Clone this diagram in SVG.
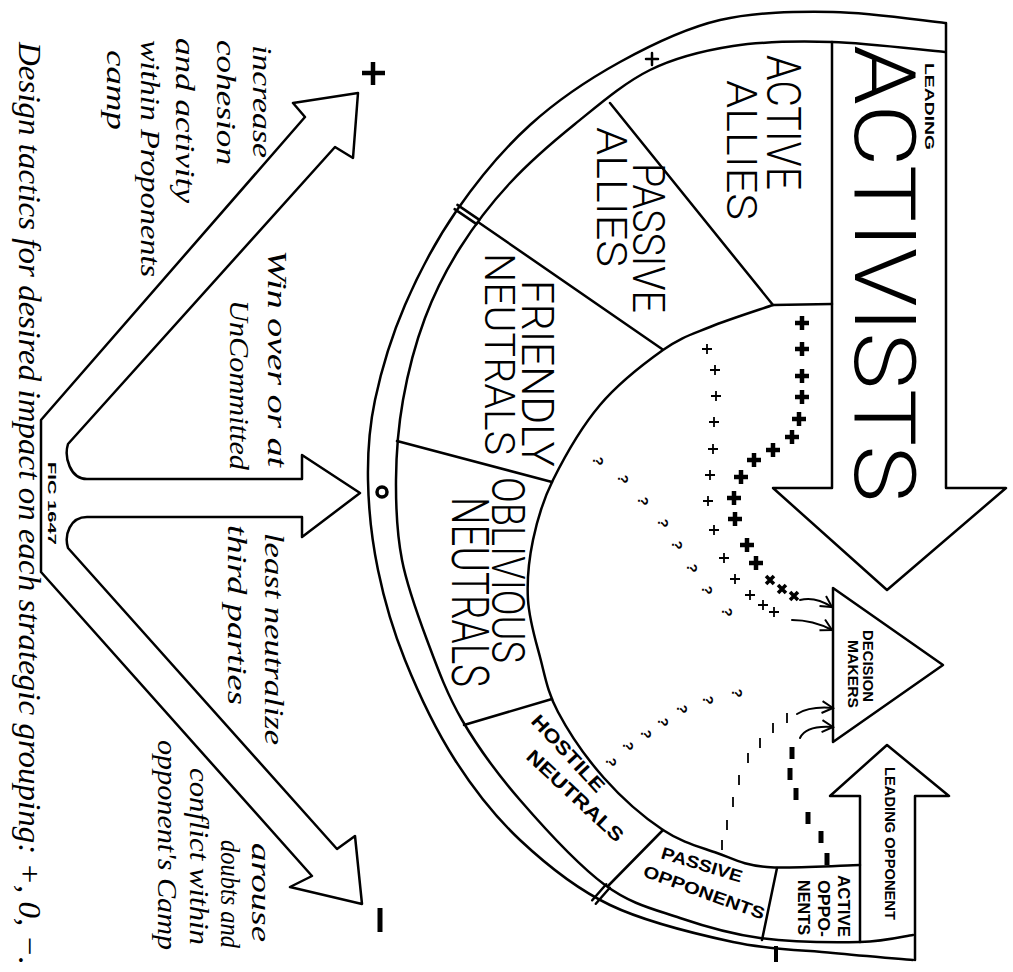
<svg xmlns="http://www.w3.org/2000/svg" width="1013" height="972" viewBox="0 0 1013 972">
<defs>
<style>
.ln{fill:none;stroke:#000;stroke-width:2.5;stroke-linejoin:round;stroke-linecap:round}
.th{fill:none;stroke:#000;stroke-width:2;stroke-linecap:round}
.blk{font-family:"Roboto","Liberation Sans",Arial,sans-serif;font-weight:300;fill:#000}
.bold{font-family:"Liberation Sans",Arial,sans-serif;font-weight:bold;fill:#000}
.hand{font-family:"Liberation Serif","Times New Roman",serif;font-style:italic;fill:#000}
.bp{stroke:#000;stroke-width:4.5;fill:none}
.sp{stroke:#000;stroke-width:1.8;fill:none}
.q{font-family:"Liberation Sans",Arial,sans-serif;font-weight:bold;font-size:15px;fill:#000;text-anchor:middle}
.td{stroke:#000;stroke-width:1.8;fill:none}
.kd{stroke:#000;stroke-width:5;fill:none}
</style>
<marker id="ah" markerUnits="userSpaceOnUse" markerWidth="16" markerHeight="16" refX="13" refY="8" orient="auto"><path d="M2,2 L13,8 L2,14" fill="none" stroke="#000" stroke-width="2"/></marker>
<path id="bplus" d="M-7,0 H7 M0,-7 V7"/>
<path id="splus" d="M-5,0 H5 M0,-5 V5"/>
<path id="tdash" d="M0,-5 V5"/>
<path id="kdash" d="M0,-6 V6"/>
</defs>
<rect width="1013" height="972" fill="#fff"/>

<g id="band">
<path class="ln" d="M945,23 C926.3,21.2 870.5,12.5 833,12 C795.5,11.5 755.5,11.7 720,20 C684.5,28.3 651.7,44.5 620,62 C588.3,79.5 557.2,100.3 530,125 C502.8,149.7 477.8,180 457,210 C436.2,240 418.7,273.3 405,305 C391.3,336.7 381.2,370.8 375,400 C368.8,429.2 367.5,451.7 368,480 C368.5,508.3 371.8,540 378,570 C384.2,600 392.2,628.3 405,660 C417.8,691.7 435.8,730 455,760 C474.2,790 494.2,815.8 520,840 C545.8,864.2 574.5,888 610,905 C645.5,922 695.8,934 733,942 C770.2,950 803,950 833,953 C863,956 899.7,958.8 913,960"/>
<path class="ln" d="M945,52 C924.5,50.3 867,43 832,42 C797,41 763.3,41.3 733,46 C702.7,50.7 676.3,57 650,70 C623.7,83 598.3,105.2 575,124 C551.7,142.8 529.2,162.3 510,183 C490.8,203.7 474.2,225.5 460,248 C445.8,270.5 434.5,292.7 425,318 C415.5,343.3 407.8,373 403,400 C398.2,427 396.2,453.3 396,480 C395.8,506.7 396.8,533.3 402,560 C407.2,586.7 417,613.3 427,640 C437,666.7 446.5,693.3 462,720 C477.5,746.7 496.2,772.5 520,800 C543.8,827.5 578.3,865.3 605,885 C631.7,904.7 654.2,909.2 680,918 C705.8,926.8 730,934 760,938 C790,942 834.5,942.5 860,942 C885.5,941.5 904.2,936.2 913,935"/>
<path class="ln" d="M454.6,209.1 L476.6,224.1 M457.4,204.9 L479.4,219.9"/>
<path class="ln" d="M609.8,887.8 L595.8,903.8 M606.2,884.2 L592.2,900.2"/>
<path class="ln" d="M646,59 H658 M652,53 V65" stroke-width="2.2"/>
<circle cx="382" cy="492" r="5" fill="none" stroke="#000" stroke-width="3.5"/>
<path d="M776,946 V962" stroke="#000" stroke-width="4"/>
</g>

<g id="inner-arc">
<path class="ln" d="M832,304 L773,305 C762.5,308.7 728.3,319.5 710,327 C691.7,334.5 681.3,337 663,350 C644.7,363 618.3,383.3 600,405 C581.7,426.7 564.2,457.5 553,480 C541.8,502.5 537.2,520 533,540 C528.8,560 526.8,580.5 528,600 C529.2,619.5 535,638.3 540,657 C545,675.7 547.3,691.8 558,712 C568.7,732.2 586.5,758.3 604,778 C621.5,797.7 644.2,817.5 663,830 C681.8,842.5 699.7,846.8 717,853 C734.3,859.2 743.2,865 767,867 C790.8,869 844.5,865.3 860,865"/>
</g>

<g id="leading-activists">
<path class="ln" d="M832,42 L832,488 L773,488 L887,590 L1006,488 L946,488 L946,23"/>
<text class="bold" font-size="12" textLength="87" lengthAdjust="spacingAndGlyphs" transform="translate(925,63) rotate(90)">LEADING</text>
<text class="blk" font-size="86" textLength="457" lengthAdjust="spacingAndGlyphs" transform="translate(855,45) rotate(90)">ACTIVISTS</text>
</g>

<g id="active-allies">
<path class="ln" d="M610,103 L773,305"/>
<text class="blk" font-size="49" textLength="135" lengthAdjust="spacingAndGlyphs" transform="translate(767,55) rotate(90)">ACTIVE</text>
<text class="blk" font-size="42" textLength="140" lengthAdjust="spacingAndGlyphs" transform="translate(727,80) rotate(90)">ALLIES</text>
</g>

<g id="passive-allies">
<path class="ln" d="M478,222 L662,349"/>
<text class="blk" font-size="45" textLength="150" lengthAdjust="spacingAndGlyphs" transform="translate(633,163) rotate(90)">PASSIVE</text>
<text class="blk" font-size="42" textLength="140" lengthAdjust="spacingAndGlyphs" transform="translate(597,127) rotate(90)">ALLIES</text>
</g>

<g id="friendly-neutrals">
<path class="ln" d="M397,441 L552,482"/>
<text class="blk" font-size="44" textLength="187" lengthAdjust="spacingAndGlyphs" transform="translate(522,280) rotate(90)">FRIENDLY</text>
<text class="blk" font-size="42" textLength="202" lengthAdjust="spacingAndGlyphs" transform="translate(485,253) rotate(90)">NEUTRALS</text>
</g>

<g id="oblivious-neutrals">
<path class="ln" d="M464,725 L552,699"/>
<text class="blk" font-size="46" textLength="186" lengthAdjust="spacingAndGlyphs" transform="translate(492,477) rotate(90)">OBLIVIOUS</text>
<text class="blk" font-size="51" textLength="190" lengthAdjust="spacingAndGlyphs" transform="translate(452,497) rotate(90)">NEUTRALS</text>
</g>

<g id="hostile-neutrals">
<path class="ln" d="M663,830 L608,886"/>
<text class="bold" font-size="19" textLength="98" lengthAdjust="spacingAndGlyphs" transform="translate(530,722) rotate(47)">HOSTILE</text>
<text class="bold" font-size="19" textLength="125" lengthAdjust="spacingAndGlyphs" transform="translate(525,758) rotate(43)">NEUTRALS</text>
</g>

<g id="passive-opponents">
<path class="ln" d="M777,868 L762,940"/>
<text class="bold" font-size="17" textLength="84" lengthAdjust="spacingAndGlyphs" transform="translate(660,858) rotate(17)">PASSIVE</text>
<text class="bold" font-size="17" textLength="128" lengthAdjust="spacingAndGlyphs" transform="translate(642,876) rotate(20)">OPPONENTS</text>
</g>

<g id="active-opponents">
<text class="bold" font-size="17" textLength="62" lengthAdjust="spacingAndGlyphs" transform="translate(838,875) rotate(90)">ACTIVE</text>
<text class="bold" font-size="17" textLength="57" lengthAdjust="spacingAndGlyphs" transform="translate(818,880) rotate(90)">OPPO-</text>
<text class="bold" font-size="17" textLength="55" lengthAdjust="spacingAndGlyphs" transform="translate(798,880) rotate(90)">NENTS</text>
</g>

<g id="leading-opponent">
<path class="ln" d="M860,942 L860,796 L830,796 L887,745 L949,796 L915,796 L915,960"/>
<text class="bold" font-size="15" textLength="153" lengthAdjust="spacingAndGlyphs" transform="translate(885,767) rotate(90)">LEADING OPPONENT</text>
</g>

<g id="decision-makers">
<path class="ln" d="M833,588 L833,742 L943,665 Z"/>
<text class="bold" font-size="14" textLength="72" lengthAdjust="spacingAndGlyphs" transform="translate(863,630) rotate(90)">DECISION</text>
<text class="bold" font-size="14" textLength="68" lengthAdjust="spacingAndGlyphs" transform="translate(848,640) rotate(90)">MAKERS</text>
</g>

<g id="connectors">
<g class="bp">
<use href="#bplus" x="802" y="323"/><use href="#bplus" x="802" y="349"/><use href="#bplus" x="802" y="376"/><use href="#bplus" x="802" y="397"/><use href="#bplus" x="799" y="419"/><use href="#bplus" x="792" y="437"/><use href="#bplus" x="773" y="450"/><use href="#bplus" x="754" y="460"/><use href="#bplus" x="741" y="477"/><use href="#bplus" x="734" y="498"/><use href="#bplus" x="735" y="519"/><use href="#bplus" x="747" y="545"/><use href="#bplus" x="756" y="563"/>
<use href="#bplus" transform="translate(770,580) rotate(45) scale(0.8)"/><use href="#bplus" transform="translate(782,589) rotate(45) scale(0.8)"/><use href="#bplus" transform="translate(794,596) rotate(45) scale(0.8)"/>
</g>
<g class="sp">
<use href="#splus" x="707" y="349"/><use href="#splus" x="715" y="370"/><use href="#splus" x="716" y="396"/><use href="#splus" x="714" y="422"/><use href="#splus" x="713" y="449"/><use href="#splus" x="710" y="475"/><use href="#splus" x="708" y="501"/><use href="#splus" x="714" y="530"/><use href="#splus" x="724" y="558"/><use href="#splus" x="735" y="579"/><use href="#splus" x="750" y="595"/><use href="#splus" x="763" y="605"/><use href="#splus" x="774" y="612"/>
</g>
<g>
<text class="q" transform="translate(598,461) rotate(90)" dy="5">?</text>
<text class="q" transform="translate(623,479) rotate(90)" dy="5">?</text>
<text class="q" transform="translate(643,501) rotate(90)" dy="5">?</text>
<text class="q" transform="translate(663,523) rotate(90)" dy="5">?</text>
<text class="q" transform="translate(677,545) rotate(90)" dy="5">?</text>
<text class="q" transform="translate(692,568) rotate(90)" dy="5">?</text>
<text class="q" transform="translate(707,590) rotate(90)" dy="5">?</text>
<text class="q" transform="translate(727,612) rotate(90)" dy="5">?</text>
<text class="q" transform="translate(737,693) rotate(90)" dy="5">?</text>
<text class="q" transform="translate(708,700) rotate(90)" dy="5">?</text>
<text class="q" transform="translate(682,709) rotate(90)" dy="5">?</text>
<text class="q" transform="translate(663,722) rotate(90)" dy="5">?</text>
<text class="q" transform="translate(646,734) rotate(90)" dy="5">?</text>
<text class="q" transform="translate(628,746) rotate(90)" dy="5">?</text>
<text class="q" transform="translate(611,762) rotate(90)" dy="5">?</text>
</g>
<g class="td">
<use href="#tdash" x="722" y="845"/><use href="#tdash" x="727" y="825"/><use href="#tdash" x="733" y="802"/><use href="#tdash" x="739" y="780"/><use href="#tdash" x="748" y="758"/><use href="#tdash" x="760" y="743"/><use href="#tdash" x="773" y="728"/><use href="#tdash" x="787" y="718"/>
</g>
<g class="kd">
<use href="#kdash" x="792" y="753"/><use href="#kdash" x="790" y="774"/><use href="#kdash" x="796" y="794"/><use href="#kdash" x="808" y="818"/><use href="#kdash" x="821" y="837"/><use href="#kdash" x="827" y="859"/>
</g>
<path class="th" marker-end="url(#ah)" d="M800,600 Q815,596 832,607"/>
<path class="th" marker-end="url(#ah)" d="M792,620 Q813,620 832,630"/>
<path class="th" marker-end="url(#ah)" d="M797,714 Q810,706 833,708"/>
<path class="th" marker-end="url(#ah)" d="M800,738 Q806,725 833,727"/>
</g>

<g id="tactics-arrows">
<path class="ln" d="M41,420 L305,117 L293,103 L358,93 L353,158 L335,147 L68,444 C64,457 70,479 87,479 L302,479 L302,455 L360,493 L302,537 L302,517 L87,517 C70,517 64,535 68,548 L337,849 L355,836 L362,904 L290,887 L312,876 L41,572 Z"/>
<path d="M362,73 H385 M373,62 V85" stroke="#000" stroke-width="4.5"/>
<path d="M380,908 V932" stroke="#000" stroke-width="5"/>
<text class="bold" font-size="11" textLength="83" lengthAdjust="spacingAndGlyphs" transform="translate(48,462) rotate(90)">FIC 1647</text>
</g>

<g id="notes">
<text class="hand" font-size="28" textLength="113" lengthAdjust="spacingAndGlyphs" transform="translate(253,45) rotate(90)">increase</text>
<text class="hand" font-size="28" textLength="125" lengthAdjust="spacingAndGlyphs" transform="translate(217,40) rotate(90)">cohesion</text>
<text class="hand" font-size="28" textLength="165" lengthAdjust="spacingAndGlyphs" transform="translate(176,38) rotate(90)">and activity</text>
<text class="hand" font-size="28" textLength="237" lengthAdjust="spacingAndGlyphs" transform="translate(141,40) rotate(90)">within Proponents</text>
<text class="hand" font-size="28" textLength="80" lengthAdjust="spacingAndGlyphs" transform="translate(107,50) rotate(90)">camp</text>
<text class="hand" font-size="28" textLength="217" lengthAdjust="spacingAndGlyphs" transform="translate(268,250) rotate(90)">Win over or at</text>
<text class="hand" font-size="28" textLength="170" lengthAdjust="spacingAndGlyphs" transform="translate(230,300) rotate(90)">UnCommitted</text>
<text class="hand" font-size="28" textLength="212" lengthAdjust="spacingAndGlyphs" transform="translate(265,533) rotate(90)">least neutralize</text>
<text class="hand" font-size="28" textLength="180" lengthAdjust="spacingAndGlyphs" transform="translate(228,525) rotate(90)">third parties</text>
<text class="hand" font-size="28" textLength="99" lengthAdjust="spacingAndGlyphs" transform="translate(252,843) rotate(90)">arouse</text>
<text class="hand" font-size="28" textLength="108" lengthAdjust="spacingAndGlyphs" transform="translate(221,840) rotate(90)">doubts and</text>
<text class="hand" font-size="28" textLength="177" lengthAdjust="spacingAndGlyphs" transform="translate(190,768) rotate(90)">conflict within</text>
<text class="hand" font-size="28" textLength="210" lengthAdjust="spacingAndGlyphs" transform="translate(158,740) rotate(90)">opponent's Camp</text>
<text class="hand" font-size="32" textLength="923" lengthAdjust="spacingAndGlyphs" transform="translate(19,42) rotate(90)">Design tactics for desired impact on each strategic grouping: +, 0, −.</text>
</g>
</svg>
